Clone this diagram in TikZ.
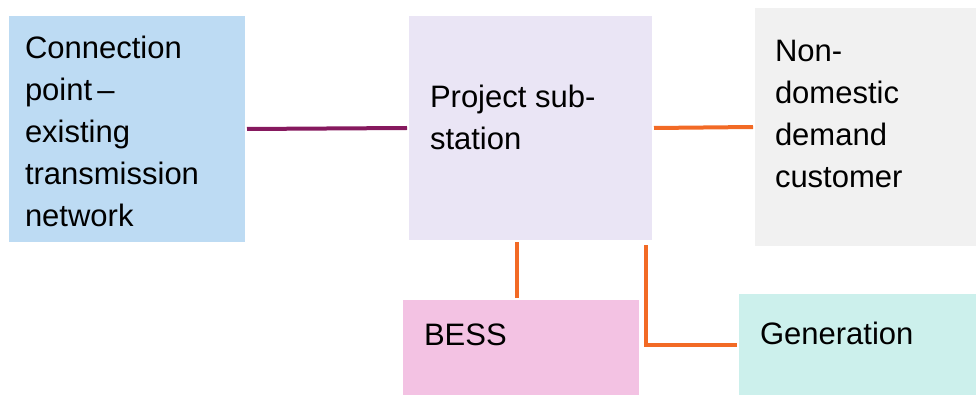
\documentclass[tikz,border=0pt]{standalone}
\usepackage{fontspec}
\setmainfont{Liberation Sans}
\usetikzlibrary{positioning}

\definecolor{connblue}{HTML}{BDDBF3}
\definecolor{sublilac}{HTML}{EAE5F5}
\definecolor{demgrey}{HTML}{F1F1F1}
\definecolor{besspink}{HTML}{F3C2E3}
\definecolor{genmint}{HTML}{CCF0EC}
\definecolor{linkpurple}{HTML}{86195E}
\definecolor{linkorange}{HTML}{F26A25}

\begin{document}
\begin{tikzpicture}[x=1pt, y=-1pt, line width=4pt]
		\tikzstyle{box}=[rectangle,draw=none,inner sep=0pt,anchor=north west]
		\tikzstyle{txt}=[anchor=north west,align=left,inner sep=0pt,text=black,font=\fontsize{31}{42}\selectfont]
		\tikzstyle{link}=[linkorange]
		
		\useasboundingbox (0,0) rectangle (976,395);
		\clip (0,0) rectangle (976,395);
		
		\node[box,fill=connblue,minimum width=236pt,minimum height=226pt] at (7,14) (conn) {};
		\node[box,fill=sublilac,minimum width=243pt,minimum height=224pt] at (407,14) (sub) {};
		\node[box,fill=demgrey,minimum width=226pt,minimum height=238pt] at (753,6) (dem) {};
		\node[box,fill=besspink,minimum width=236pt,minimum height=120pt] at (401,298) (bess) {};
		\node[box,fill=genmint,minimum width=242pt,minimum height=102pt] at (737,292) (gen) {};
		
		\node[txt] at (23,34) (conntxt) {Connection\\point\,--\\existing\\transmission\\network};
		\node[txt] at (428,83) (subtxt) {Project sub-\\station};
		\node[txt] at (773,38) (demtxt) {Non-\\domestic\\demand\\customer};
		\node[txt] at (422,322) (besstxt) {BESS};
		\node[txt] at (758,320) (gentxt) {Generation};
		
		\draw[linkpurple] (conn.east) -- (sub.west);
		\draw[link] (sub.east) -- (dem.west);
		\draw[link] ([xshift=-4pt]bess.north) -- ([xshift=-4pt]bess.north |- sub.south);
		\draw[link] ([xshift=-8pt,yshift=-3pt]sub.south east) |- (gen.west);
	\end{tikzpicture}
\end{document}
